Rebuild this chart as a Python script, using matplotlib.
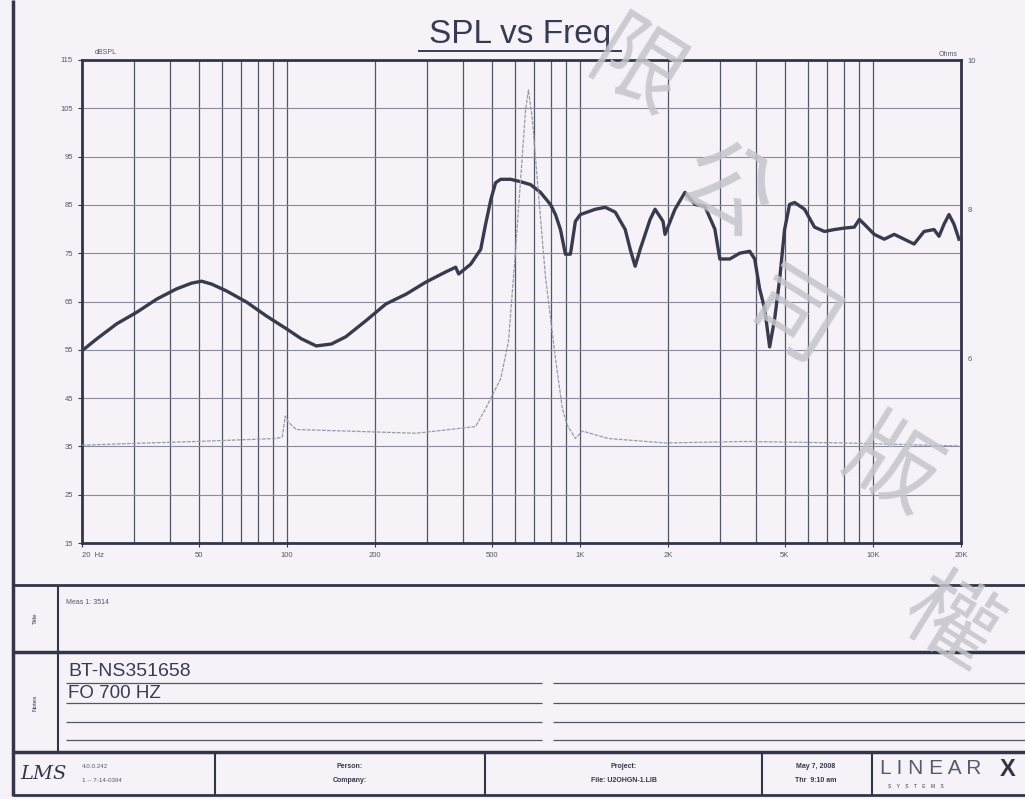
import matplotlib.pyplot as plt
from matplotlib.ticker import FixedLocator, LogLocator, NullFormatter
import numpy as np

# SPL curve (Hz, dBSPL)
splFreq = [20, 22.5, 26.3, 30.8, 36, 42, 47.3, 51.2, 55.4, 62.2, 72.8, 85.2, 100, 112, 126, 142, 159,
           186, 218, 255, 298, 348, 377, 386, 424, 459, 477, 497, 516, 537, 581, 628, 679, 734, 794,
           826, 859, 893, 929, 966, 1004, 1130, 1222, 1321, 1429, 1486, 1545, 1607, 1738, 1807, 1923,
           1954, 2113, 2285, 2471, 2672, 2890, 3006, 3250, 3515, 3801, 3953, 4110, 4275, 4446, 4624,
           4809, 5000, 5200, 5408, 5848, 6325, 6840, 7396, 8000, 8650, 8996, 9354, 10116, 10940,
           11832, 12796, 13836, 14960, 16180, 16828, 17500, 18200, 18930, 19680]
splValue = [54.8, 57.3, 60.4, 62.8, 65.5, 67.6, 68.8, 69.2, 68.6, 67.2, 64.9, 62.0, 59.3, 57.3, 55.8, 56.2, 57.7,
            61.0, 64.5, 66.5, 69.0, 71.1, 72.1, 70.7, 72.7, 75.8, 81.0, 86.1, 89.6, 90.3, 90.3, 89.8, 89.2, 87.6, 85.1,
            83.0, 79.9, 74.8, 74.8, 81.6, 83.0, 84.1, 84.5, 83.5, 79.9, 75.8, 72.3, 75.8, 82.0, 84.1, 81.6,
            78.9, 84.1, 87.6, 85.1, 84.7, 80.0, 73.8, 73.8, 75.0, 75.4, 73.8, 67.6, 63.5, 55.6, 61.4,
            69.6, 79.9, 85.1, 85.5, 84.1, 80.4, 79.5, 79.9, 80.2, 80.4, 82.0, 81.0, 78.9, 77.9,
            78.9, 77.9, 76.9, 79.5, 79.9, 78.5, 81.0, 83.0, 81.0, 77.9]

# impedance curve (Hz, Ohms)
impFreq = [20, 33.2, 49.2, 92.1, 96.5, 98.8, 101.2, 107.7, 159, 276, 441, 477, 497, 537, 571, 604, 628,
           653, 668, 689, 716, 763, 826, 872, 906, 966, 1019, 1250, 1954, 3655, 8000, 19680]
impValue = [4.84, 4.87, 4.89, 4.93, 4.95, 5.23, 5.15, 5.05, 5.03, 5.0, 5.09, 5.33, 5.47, 5.73, 6.23, 7.47, 8.4,
            9.33, 9.6, 9.2, 8.4, 7.11, 6.0, 5.33, 5.11, 4.93, 5.03, 4.93, 4.87, 4.89, 4.87, 4.83]

xTicks = [20, 50, 100, 200, 500, 1000, 2000, 5000, 10000, 20000]
xLabels = ['20  Hz', '50', '100', '200', '500', '1K', '2K', '5K', '10K', '20K']
yTicks = [15, 25, 35, 45, 55, 65, 75, 85, 95, 105, 115]
ohmTicks = [6, 8, 10]

paper = '#f5f3f8'
ink = '#35354a'
plt.rcParams['font.family'] = ['Liberation Sans', 'DejaVu Sans']

fig = plt.figure(figsize=(10.25, 7.99), dpi=100, facecolor=paper)

# page layout in pixel coordinates
page = fig.add_axes([0, 0, 1, 1], zorder=0)
page.set_xlim(0, 1025)
page.set_ylim(799, 0)
page.axis('off')

def hline(y, x0, x1, lw=1.6, c=ink):
    page.plot([x0, x1], [y, y], color=c, lw=lw, solid_capstyle='butt')

def vline(x, y0, y1, lw=1.6, c=ink):
    page.plot([x, x], [y0, y1], color=c, lw=lw, solid_capstyle='butt')

vline(13, 0, 796, lw=2.5)
hline(585, 13, 1025, lw=2)
hline(652, 13, 1025, lw=2.5)
hline(752, 13, 1025, lw=2.5)
hline(795, 13, 1025, lw=2)
vline(58, 585, 752, lw=1.5)
for y in [683, 703, 722, 740]:
    hline(y, 66, 542, lw=0.9, c='#55556a')
    hline(y, 553, 1025, lw=0.9, c='#55556a')
for x in [215, 485, 762, 872]:
    vline(x, 752, 795, lw=1.5)

page.text(35, 618, 'Title', rotation=90, fontsize=4.5, ha='center', va='center', color=ink)
page.text(35, 703, 'Notes', rotation=90, fontsize=4.5, ha='center', va='center', color=ink)
page.text(66, 603, 'Meas 1: 3514', fontsize=5, color='#55556a', va='center')
page.text(68, 671, 'BT-NS351658', fontsize=14, color='#3a3a55', va='center')
page.text(68, 693, 'FO 700 HZ', fontsize=13.5, color='#3a3a55', va='center')
page.text(20, 774, 'LMS', fontsize=14, style='italic', color=ink, va='center', family='DejaVu Serif')
page.text(82, 766, '4.0.0.242', fontsize=4.5, color='#55556a', va='center')
page.text(82, 781, '1 -- 7-14-0394', fontsize=4.5, color='#55556a', va='center')
page.text(350, 767, 'Person:', fontsize=5, ha='center', va='center', color=ink, weight='bold')
page.text(350, 781, 'Company:', fontsize=5, ha='center', va='center', color=ink, weight='bold')
page.text(624, 767, 'Project:', fontsize=5, ha='center', va='center', color=ink, weight='bold')
page.text(624, 781, 'File: U2OHGN-1.LIB', fontsize=5, ha='center', va='center', color=ink, weight='bold')
page.text(816, 767, 'May 7, 2008', fontsize=5, ha='center', va='center', color=ink, weight='bold')
page.text(816, 781, 'Thr  9:10 am', fontsize=5, ha='center', va='center', color=ink, weight='bold')
page.text(880, 769, 'L I N E A R', fontsize=15, va='center', color='#5a5a6e')
page.text(1000, 769, 'X', fontsize=17, va='center', color=ink, weight='bold')
page.text(888, 787, 'S    Y    S    T    E    M    S', fontsize=3.5, va='center', color=ink)

# title
page.text(520, 35, 'SPL vs Freq', fontsize=24, ha='center', va='center', color='#3a3a55')
hline(51, 418, 622, lw=1.4, c='#3a3a55')

# main chart
ax = fig.add_axes([82 / 1025, 1 - 543 / 799, 879 / 1025, 483 / 799], zorder=1)
ax.set_facecolor(paper)
ax.set_xscale('log')
ax.set_xlim(20, 20000)
ax.set_ylim(15, 115)
ax.xaxis.set_major_locator(FixedLocator(xTicks))
ax.set_xticklabels(xLabels)
ax.xaxis.set_minor_locator(LogLocator(base=10, subs=np.arange(2, 10)))
ax.xaxis.set_minor_formatter(NullFormatter())
ax.set_yticks(yTicks)
ax.grid(which='both', axis='x', color='#55556a', lw=0.9)
ax.grid(which='major', axis='y', color='#8a8a9a', lw=0.8)
ax.tick_params(which='minor', length=0)
ax.tick_params(which='major', length=3, width=0.8, color=ink, labelsize=5.5, labelcolor='#55556a')
for lab in ax.get_xticklabels()[:1]:
    lab.set_horizontalalignment('left')
for s in ax.spines.values():
    s.set_color(ink)
    s.set_linewidth(2)

ax.plot(splFreq, splValue, color='#3a3a4e', lw=2.4, zorder=4)

ohm = ax.twinx()
ohm.set_ylim(3.53, 10)
ohm.set_yticks(ohmTicks)
ohm.tick_params(length=0, labelsize=5.5, labelcolor='#55556a', pad=5)
ohm.plot(impFreq, impValue, color='#9a9aa8', lw=0.9, ls=(0, (3, 1)), zorder=3)
for s in ohm.spines.values():
    s.set_visible(False)

page.text(106, 52, 'dBSPL', fontsize=5, ha='center', va='center', color='#55556a')
page.text(948, 55, 'Ohms', fontsize=5, ha='center', va='center', color='#55556a')
page.text(930, 533, 'IMS', fontsize=12, style='italic', ha='center', va='center', color='#55556a', zorder=5)

# watermark
wmChars = ['限', '公', '司', '版', '權']
wmX = [635, 725, 790, 890, 948]
wmY = [72, 192, 322, 470, 625]
for ch, x, y in zip(wmChars, wmX, wmY):
    fig.text(x / 1025, 1 - y / 799, ch, fontsize=66, rotation=-32, ha='center', va='center',
             color='#c4c4ca', alpha=0.85, zorder=10, family=['Noto Sans CJK TC', 'DejaVu Sans'])

fig.savefig('out.png', dpi=100, facecolor=paper)
